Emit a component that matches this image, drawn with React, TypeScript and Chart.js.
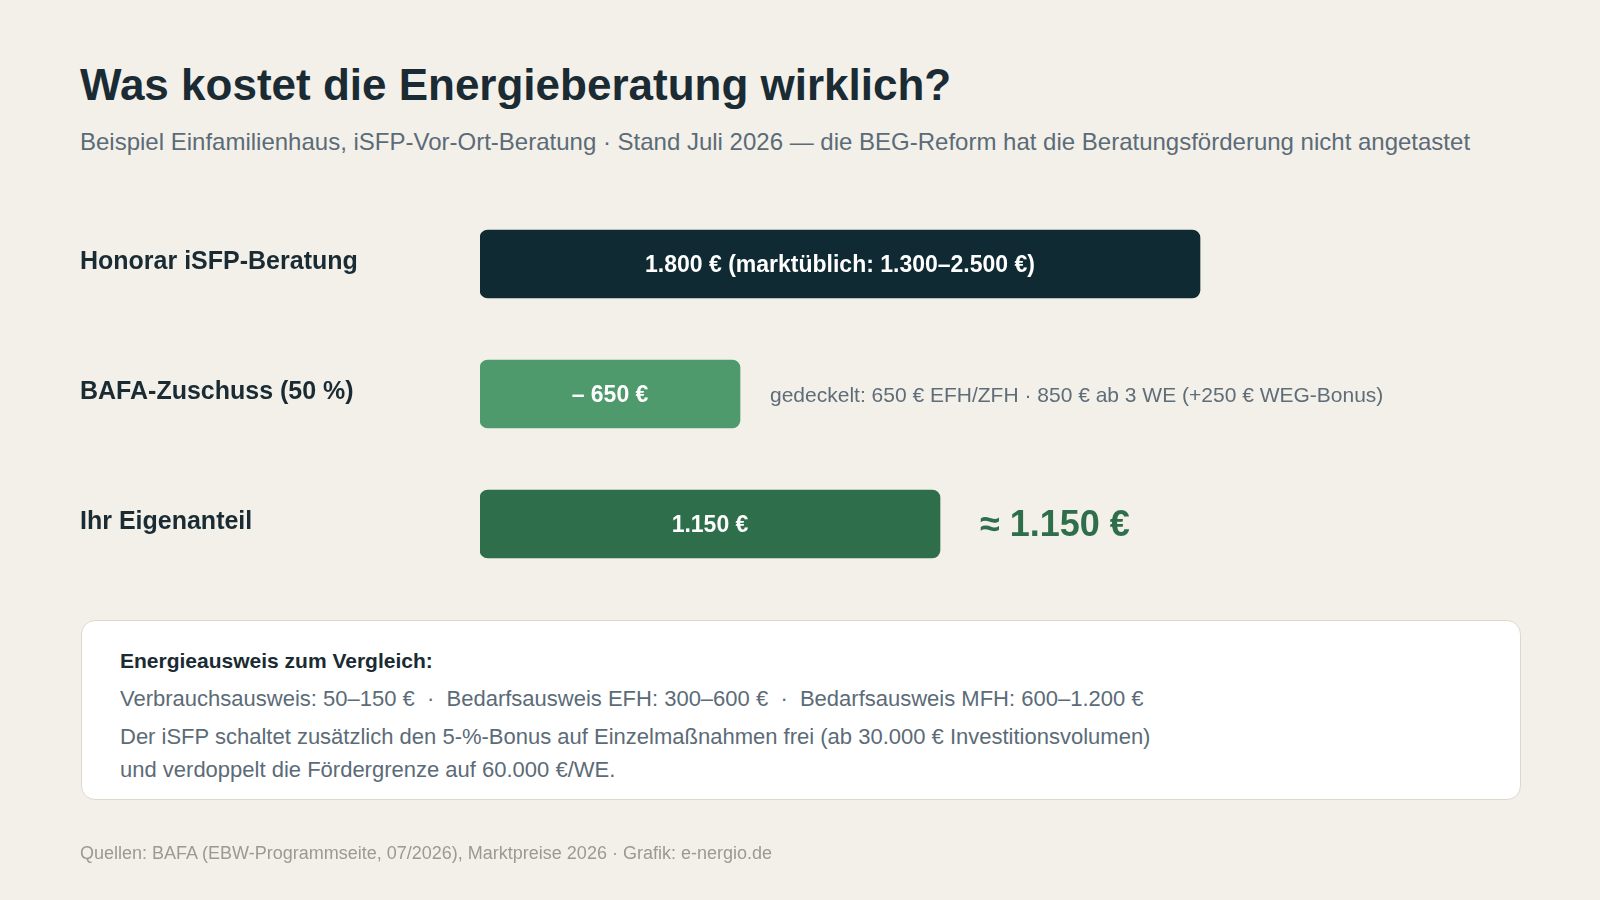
import React, { useEffect, useRef } from "react";
import { Chart, registerables } from "chart.js";

Chart.register(...registerables);

// ---- data ----
const categories = ["Honorar iSFP-Beratung", "BAFA-Zuschuss (50 %)", "Ihr Eigenanteil"];
const values = [1800, 650, 1150];
const barLabels = ["1.800 € (marktüblich: 1.300–2.500 €)", "– 650 €", "1.150 €"];
const sideNotes = ["", "gedeckelt: 650 € EFH/ZFH · 850 € ab 3 WE (+250 € WEG-Bonus)", "≈ 1.150 €"];
const axisMax = 2500;

const titleText = "Was kostet die Energieberatung wirklich?";
const subtitleText =
  "Beispiel Einfamilienhaus, iSFP-Vor-Ort-Beratung · Stand Juli 2026 — die BEG-Reform hat die Beratungsförderung nicht angetastet";
const boxTitle = "Energieausweis zum Vergleich:";
const boxLines = [
  "Verbrauchsausweis: 50–150 €  ·  Bedarfsausweis EFH: 300–600 €  ·  Bedarfsausweis MFH: 600–1.200 €",
  "Der iSFP schaltet zusätzlich den 5-%-Bonus auf Einzelmaßnahmen frei (ab 30.000 € Investitionsvolumen)",
  "und verdoppelt die Fördergrenze auf 60.000 €/WE.",
];
const sourceText = "Quellen: BAFA (EBW-Programmseite, 07/2026), Marktpreise 2026 · Grafik: e-nergio.de";

const FONT = "'Liberation Sans', Arial, Helvetica, sans-serif";

const barTextPlugin = {
  id: "barText",
  afterDatasetsDraw(chart: any) {
    const ctx = chart.ctx;
    const meta = chart.getDatasetMeta(0);
    meta.data.forEach((bar: any, i: number) => {
      const { x, y, base } = bar.getProps(["x", "y", "base"], true);
      ctx.save();
      ctx.textBaseline = "middle";
      ctx.textAlign = "center";
      ctx.fillStyle = "#ffffff";
      ctx.font = `bold 23px ${FONT}`;
      ctx.fillText(barLabels[i], (x + base) / 2, y + 2);
      const note = sideNotes[i];
      if (note) {
        ctx.textAlign = "left";
        if (i === 2) {
          ctx.font = `bold 36px ${FONT}`;
          ctx.fillStyle = "#2e6e4a";
          ctx.fillText(note, x + 40, y + 2);
        } else {
          ctx.font = `21px ${FONT}`;
          ctx.fillStyle = "#5e6d78";
          ctx.fillText(note, x + 30, y + 2);
        }
      }
      ctx.restore();
    });
  },
};

export default function App() {
  const canvasRef = useRef<HTMLCanvasElement | null>(null);

  useEffect(() => {
    if (!canvasRef.current) return;
    const chart = new Chart(canvasRef.current, {
      type: "bar",
      data: {
        labels: categories,
        datasets: [
          {
            data: values,
            backgroundColor: ["#102a33", "#4e9a6c", "#2e6e4a"],
            borderRadius: 8,
            borderSkipped: false,
            barThickness: 68,
          },
        ],
      },
      options: {
        indexAxis: "y",
        responsive: false,
        animation: false,
        devicePixelRatio: 1,
        layout: { padding: { left: 80, right: 120, top: 199, bottom: 311 } },
        plugins: { legend: { display: false }, tooltip: { enabled: false } },
        scales: {
          x: { min: 0, max: axisMax, display: false },
          y: {
            grid: { display: false },
            border: { display: false },
            ticks: {
              crossAlign: "far",
              color: "#1a2b33",
              font: { family: FONT, size: 25, weight: "bold" },
              labelOffset: -2,
              padding: 0,
            },
            afterFit: (s: any) => {
              s.width = 400;
            },
          },
        },
      },
      plugins: [barTextPlugin],
    } as any);
    return () => chart.destroy();
  }, []);

  const abs = (left: number, top: number, extra: any = {}) => ({
    position: "absolute" as const,
    left,
    top,
    lineHeight: 1,
    whiteSpace: "pre" as const,
    margin: 0,
    ...extra,
  });

  return (
    <div
      style={{
        position: "fixed",
        left: 0,
        top: 0,
        width: 1600,
        height: 900,
        background: "#f3f0e9",
        overflow: "hidden",
        fontFamily: FONT,
      }}
    >
      <div style={abs(80, 63, { fontSize: 44, fontWeight: 700, color: "#1a2b33" })}>{titleText}</div>
      <div style={abs(80, 130, { fontSize: 24, color: "#5b6b77" })}>{subtitleText}</div>
      <canvas
        ref={canvasRef}
        width={1600}
        height={900}
        style={{ position: "absolute", left: 0, top: 0, width: 1600, height: 900 }}
      />
      <div
        style={{
          position: "absolute",
          left: 81,
          top: 620,
          width: 1440,
          height: 180,
          background: "#ffffff",
          border: "1.5px solid #ddd8cb",
          borderRadius: 14,
          boxSizing: "border-box",
        }}
      />
      <div style={abs(120, 650, { fontSize: 21, fontWeight: 700, color: "#1a2b33" })}>{boxTitle}</div>
      <div style={abs(120, 688, { fontSize: 22, color: "#5b6b77" })}>{boxLines[0]}</div>
      <div style={abs(120, 726, { fontSize: 22, color: "#5b6b77" })}>{boxLines[1]}</div>
      <div style={abs(120, 759, { fontSize: 22, color: "#5b6b77" })}>{boxLines[2]}</div>
      <div style={abs(80, 844, { fontSize: 18, color: "#9a9a92" })}>{sourceText}</div>
    </div>
  );
}
